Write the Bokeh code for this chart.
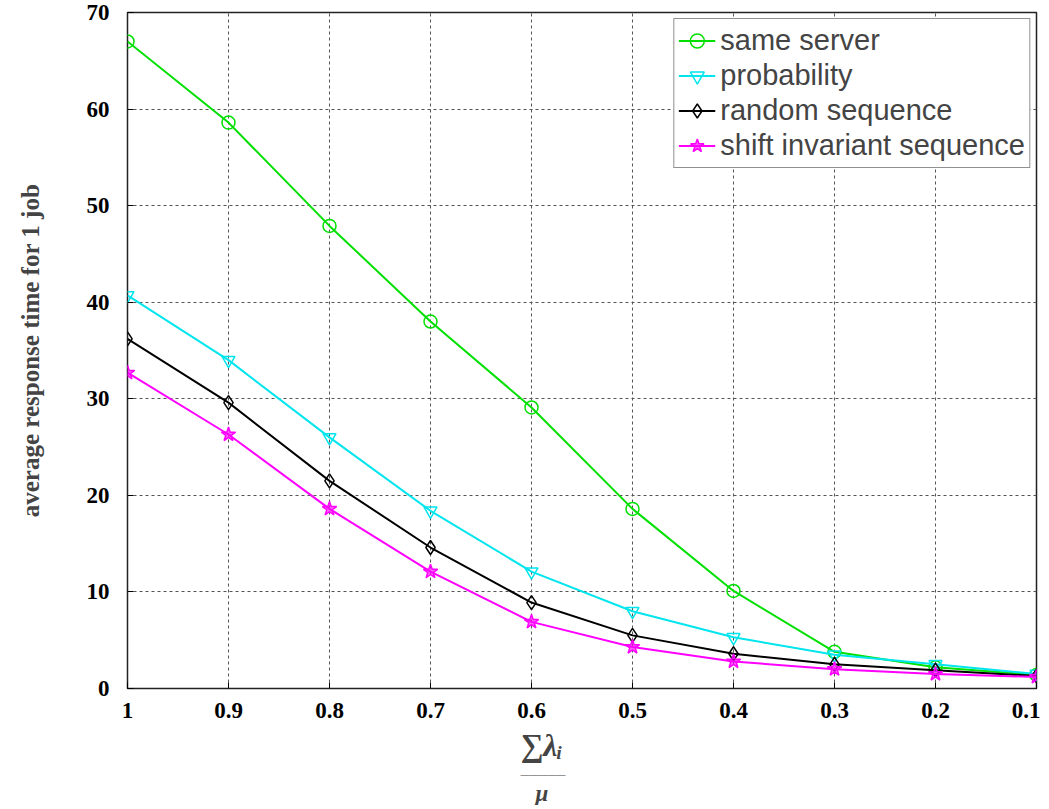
from bokeh.plotting import figure
from bokeh.models import Range1d, FixedTicker, Legend, LegendItem, Title
from bokeh.embed import file_html
from bokeh.resources import INLINE

x = [1.0, 0.9, 0.8, 0.7, 0.6, 0.5, 0.4, 0.3, 0.2, 0.1]
same_server = [67.0, 58.6, 47.9, 38.0, 29.1, 18.6, 10.1, 3.8, 2.2, 1.4]
probability = [40.7, 34.0, 26.0, 18.4, 12.1, 8.0, 5.3, 3.5, 2.5, 1.5]
random_seq = [36.2, 29.6, 21.5, 14.6, 8.9, 5.5, 3.6, 2.5, 1.9, 1.3]
shift_inv = [32.7, 26.3, 18.6, 12.1, 6.9, 4.3, 2.8, 2.0, 1.5, 1.2]
x_ticks = [1.0, 0.9, 0.8, 0.7, 0.6, 0.5, 0.4, 0.3, 0.2, 0.1]
x_tick_labels = ["1", "0.9", "0.8", "0.7", "0.6", "0.5", "0.4", "0.3", "0.2", "0.1"]
y_ticks = [0, 10, 20, 30, 40, 50, 60, 70]

p = figure(output_backend="svg", toolbar_location=None,
           frame_width=909, frame_height=676,
           min_border_left=127, min_border_top=12, min_border_right=4, min_border_bottom=0,
           x_range=Range1d(1.0, 0.1), y_range=Range1d(0, 70))

p.outline_line_color = "#222222"
p.outline_line_width = 1.5
for ax in (p.xaxis[0], p.yaxis[0]):
    ax.axis_line_color = None
    ax.major_tick_in = 6
    ax.major_tick_out = 0
    ax.minor_tick_line_color = None
    ax.major_label_text_font = "Liberation Serif"
    ax.major_label_text_font_style = "bold"
    ax.major_label_text_font_size = "23px"
    ax.major_label_text_color = "black"
    ax.major_tick_line_color = "black"

p.xaxis.ticker = FixedTicker(ticks=x_ticks)
p.xaxis.major_label_overrides = {t: l for t, l in zip(x_ticks, x_tick_labels)}
p.xaxis.major_label_standoff = 14

p.yaxis.ticker = FixedTicker(ticks=y_ticks)
p.yaxis.major_label_standoff = 18
p.yaxis.axis_label = "average response time for 1 job"
p.yaxis.axis_label_text_font = "Liberation Serif"
p.yaxis.axis_label_text_font_style = "bold"
p.yaxis.axis_label_text_font_size = "25px"
p.yaxis.axis_label_standoff = 40

p.add_layout(Title(text="∑λᵢ", align="left", offset=393, standoff=8,
                   text_font="Liberation Serif", text_font_size="32px",
                   text_font_style="bold italic"), "below")
p.add_layout(Title(text="—————", align="left", offset=393, standoff=0,
                   text_font="Liberation Serif", text_font_size="9px",
                   text_font_style="bold"), "below")
p.add_layout(Title(text="μ", align="left", offset=408, standoff=0,
                   text_font="Liberation Serif", text_font_size="23px",
                   text_font_style="bold italic"), "below")

p.xgrid.ticker = FixedTicker(ticks=x_ticks)
p.ygrid.ticker = FixedTicker(ticks=y_ticks)
for g in (p.xgrid[0], p.ygrid[0]):
    g.grid_line_color = "#555555"
    g.grid_line_dash = "3 3"
    g.grid_line_width = 1

lw = 2
l1 = p.line(x, same_server, line_color="#00e000", line_width=lw)
m1 = p.scatter(x, same_server, marker="circle", size=13, fill_color=None, line_color="#00e000", line_width=1.5)
l2 = p.line(x, probability, line_color="#00e5ee", line_width=lw)
m2 = p.scatter(x, probability, marker="inverted_triangle", size=13, fill_color=None, line_color="#00e5ee", line_width=1.5)
l3 = p.line(x, random_seq, line_color="black", line_width=lw)
m3 = p.scatter(x, random_seq, marker="diamond", size=14, fill_color=None, line_color="black", line_width=1.5)
l4 = p.line(x, shift_inv, line_color="#ff00ff", line_width=lw)
m4 = p.scatter(x, shift_inv, marker="star", size=15, fill_color="#ff00ff", fill_alpha=0.6, line_color="#ff00ff", line_width=1.5)

legend = Legend(items=[
    LegendItem(label="same server", renderers=[l1, m1]),
    LegendItem(label="probability", renderers=[l2, m2]),
    LegendItem(label="random sequence", renderers=[l3, m3]),
    LegendItem(label="shift invariant sequence", renderers=[l4, m4]),
], location="top_right")
legend.label_text_font = "Liberation Sans"
legend.label_text_font_size = "29px"
legend.label_height = 35
legend.glyph_width = 37
legend.glyph_height = 35
legend.spacing = 0
legend.padding = 4
legend.margin = 6
legend.label_standoff = 5
legend.border_line_color = "#222222"
legend.border_line_width = 1.5
legend.background_fill_alpha = 1
p.add_layout(legend)

open("out.html", "w").write(file_html(p, INLINE))
